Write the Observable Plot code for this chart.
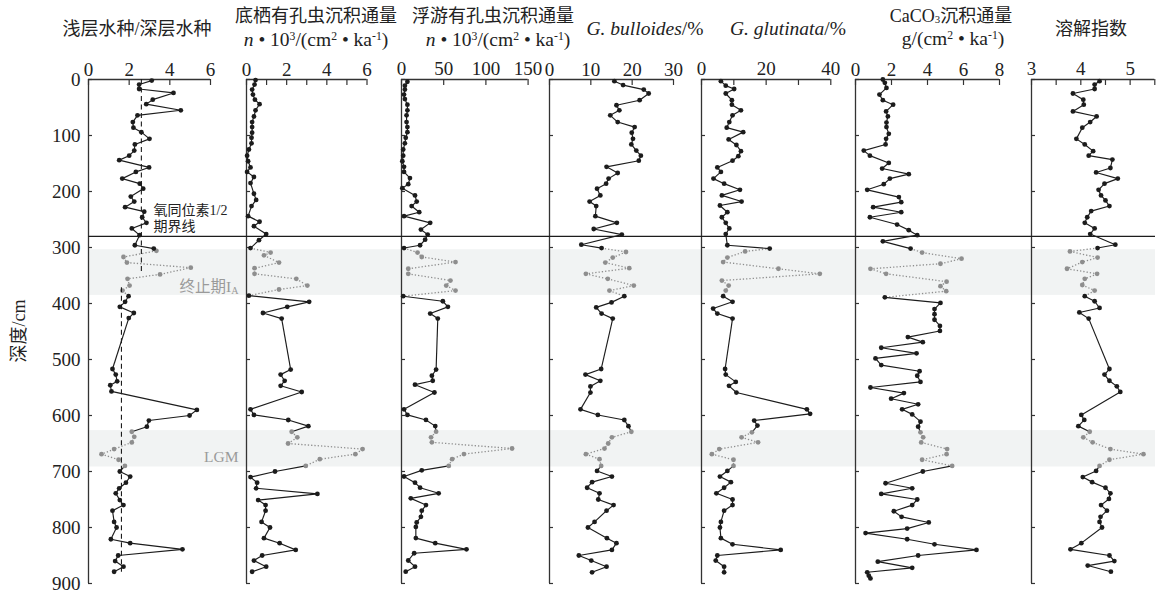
<!DOCTYPE html>
<html>
<head>
<meta charset="utf-8">
<script src="https://cdn.jsdelivr.net/npm/d3@7"></script>
<script src="https://cdn.jsdelivr.net/npm/@observablehq/plot@0.6"></script>
<style>
  body { margin: 0; background: #fff; }
  #chart { position: relative; width: 1166px; height: 597px; overflow: hidden;
           font-family: "Liberation Serif", "Times New Roman", "DejaVu Serif", serif, "Noto Sans CJK SC"; color: #222; }
  .layer { position: absolute; top: 0; }
  .title { position: absolute; transform: translate(-50%, -50%); white-space: nowrap;
           font-size: 18px; line-height: 1; }
  .title.latin { font-size: 19.5px; }
  .title sup { font-size: 60%; vertical-align: 0.55em; line-height: 0; }
  .title sub { font-size: 60%; vertical-align: -0.05em; line-height: 0; }
  .ylab { position: absolute; left: 17px; top: 331px; transform: translate(-50%, -50%) rotate(-90deg);
          font-size: 18px; white-space: nowrap; }
</style>
</head>
<body>
<div id="chart"></div>
<script>
// ---------------- data ----------------
const depthTicks = [0, 100, 200, 300, 400, 500, 600, 700, 800, 900];

const bands = [
  {name: "终止期I", sub: "A", top: 304, bottom: 385.5},
  {name: "LGM", sub: "", top: 627, bottom: 692}
];
const boundaryDepth = 280;

// Panel 1: shallow / deep water species ratio
const ratioDepth = [2,9,17,24,36,44,55,64,76,86,94,106,116,127,136,144,157,165,177,186,195,209,218,228,236,246,256,266,278,296,302,
  306,317,327,336,348,356,368,377,
  387,397,406,417,426,
  517,527,539,546,557,
  590,600,609,620,
  629,638,648,660,669,679,690,
  700,709,720,730,739,751,760,770,790,800,821,828,839,850,860,870,879];
const ratioValues = [3.11,2.49,2.49,4.18,3.16,2.84,4.54,2.41,2.18,2.21,2.6,3.0,2.28,2.25,2.0,1.51,2.98,2.33,1.66,2.52,2.69,2.08,2.25,1.8,2.74,2.64,2.85,2.13,2.51,2.28,3.21,
  3.34,1.72,1.89,5.03,3.52,1.92,2.02,1.67,
  1.97,1.8,1.54,2.23,1.98,
  1.18,1.34,1.41,1.07,1.13,
  5.33,4.97,2.97,2.87,
  2.13,2.25,2.13,1.26,0.64,1.48,1.79,
  1.54,2.05,1.84,1.51,1.34,1.54,1.72,1.18,1.26,1.38,1.1,2.05,4.62,1.46,1.31,1.72,1.26];
const ratioMeans = [{x: 2.6, from: 0, to: 345}, {x: 1.62, from: 372, to: 880}];

// Panel 2: benthic foraminifera flux
const benthicDepth = [1,9,18,27,36,44,55,66,76,85,95,104,114,125,136,146,157,165,174,185,204,215,226,244,254,262,276,287,301,
  309,314,327,337,347,356,368,375,
  386,397,406,417,427,
  518,527,538,547,558,
  589,599,608,619,
  629,639,650,660,669,678,690,
  700,710,720,730,740,751,760,770,790,800,819,828,840,850,859,870,879];
const benthicValues = [0.45,0.4,0.28,0.32,0.42,0.65,0.45,0.37,0.28,0.28,0.28,0.25,0.25,0.12,0.03,0.08,0.2,0.03,0.37,0.2,0.37,0.48,0.25,0.08,0.65,0.37,0.98,0.62,0.2,
  1.2,0.87,1.62,0.4,0.4,2.48,3.03,1.62,
  0.12,3.12,2.03,0.82,1.75,
  2.2,1.7,1.9,1.7,2.75,
  0.2,0.37,2.08,3.08,
  2.25,2.53,2.07,5.78,5.42,3.65,2.95,
  1.42,0.2,0.53,0.48,3.53,0.58,0.95,0.95,0.75,1.17,0.87,1.65,2.45,0.78,0.37,0.98,0.28];

// Panel 3: planktonic foraminifera flux
const planktonDepth = [4,11,18,27,35,45,55,64,76,85,94,104,114,125,136,146,156,165,176,187,194,207,218,226,237,244,256,268,277,286,296,301,
  309,317,326,338,347,359,368,377,
  387,396,406,418,427,
  518,529,538,545,559,
  589,599,608,619,
  629,639,648,659,669,678,690,
  698,709,720,729,739,748,760,770,781,791,799,819,828,839,846,859,870,879];
const planktonValues = [7,4,4,3,4,7,7,6,6,7,7,5,4,2,2,1,3,3,10,8,1,16,18,12,21,3,34,23,31,28,22,3,
  19,24,64,8,8,58,53,64,
  2,49,55,34,43,
  41,36,37,16,39,
  3,7,29,40,
  41,35,36,131,74,60,56,
  24,3,16,22,44,11,29,24,23,18,17,17,40,77,15,8,16,5];

// Panel 4: G. bulloides %
const bulloidesDepth = [3,10,18,25,37,46,55,64,76,85,95,106,116,127,136,145,156,167,177,186,195,207,218,226,244,256,267,277,295,301,
  308,318,327,337,347,356,368,377,
  387,398,407,418,427,
  517,527,538,548,559,
  589,599,608,619,
  629,639,650,659,669,678,690,
  699,709,719,729,739,750,760,770,790,800,819,828,840,850,859,870,880];
const bulloidesValues = [15.7,17.8,22.8,24,21.8,16.2,16.9,14.7,16.5,20.6,19.9,20.2,19.8,21,22.1,21.6,13.8,16.5,14.3,13.7,11.5,12.3,9.7,11.3,11.1,16.3,10.7,17.5,7.7,12.6,
  18.5,15.3,13.5,19.3,8.8,14.1,20.4,14.5,
  18.1,15,11.3,12.6,15.3,
  12.5,8.7,12.3,9.9,9.9,
  7.5,11.7,18.1,19.1,
  19.8,15.1,14.2,13.3,8.8,12.1,12.5,
  11.5,15.1,10.3,9.1,12.1,11.8,15.5,13.8,10.9,9.3,13.9,16.2,15.1,7.1,10.1,13.8,10.3];

// Panel 5: G. glutinata %
const glutinataDepth = [3,11,17,25,37,45,55,64,76,86,94,107,117,128,137,145,157,165,177,186,197,207,218,225,237,246,256,266,276,296,302,
  307,318,326,338,347,359,368,377,
  387,397,409,418,427,
  517,527,540,547,559,
  589,597,609,618,
  630,639,648,660,669,679,690,
  699,709,719,729,739,750,760,770,790,800,819,830,840,850,859,870,880];
const glutinataValues = [6,7.5,10.1,7.5,9.4,9.4,12.2,9.6,8.6,7.8,12.9,8.4,10.8,12.2,11.4,9.6,4.9,6,3.7,7,11.9,6.3,12.4,5.7,8,6.3,7.5,8.6,7.5,8,21.1,
  13.5,8,6.7,23.8,36.6,6.3,8.4,7.5,
  6.7,9.6,3.6,4.9,9.6,
  7.3,7.5,10.6,8.5,10.8,
  32.6,33.6,16.3,17.3,
  15.6,12.4,17.5,5.5,3.2,9.9,9.9,
  8,5.7,9.1,7,4.6,9.6,9.6,7,6,5.7,6,9.6,24.5,4.9,4.4,7,7];

// Panel 6: CaCO3 flux
const caco3Depth = [0,6,15,27,37,45,57,66,77,85,97,106,116,127,136,149,159,169,177,187,197,210,219,228,237,246,259,269,278,289,302,
  309,320,329,338,347,361,369,378,
  389,399,410,419,429,440,449,460,469,479,489,498,510,521,529,540,550,560,570,580,589,598,611,620,
  630,639,648,660,669,679,690,
  700,721,730,740,750,760,771,781,791,802,810,821,830,840,850,861,872,880,886,891];
const caco3Values = [1.52,1.63,1.72,1.33,1.52,2.09,1.7,1.8,1.72,1.72,1.85,1.7,1.67,0.46,0.8,1.85,1.48,2.96,1.91,1.57,0.65,2.41,2.54,0.98,2.54,0.8,2.31,2.96,3.43,1.52,3.06,
  3.7,5.89,4.72,0.83,1.7,5.06,4.72,5.04,
  1.63,4.72,4.39,4.39,4.39,4.69,4.69,2.91,3.74,1.43,3.39,1.11,1.43,3.56,3.43,3.61,0.83,2.69,1.98,3.48,2.59,3.15,3.61,3.48,
  3.61,3.76,3.65,5.09,5.06,3.7,5.37,
  3.74,1.67,3.15,1.43,3.43,3.15,2.13,2.56,4.07,2.87,0.56,2.87,4.39,6.72,3.48,1.24,3.15,0.65,0.74,0.83];

// Panel 7: dissolution index
const dissolutionDepth = [3,9,17,25,36,45,57,66,76,86,106,116,128,136,143,158,166,177,186,197,207,216,226,235,246,256,266,276,295,301,
  307,318,326,338,347,356,367,377,
  387,396,408,416,427,
  517,527,538,548,558,
  599,608,619,
  629,639,648,660,669,679,690,
  699,710,719,729,739,749,760,770,781,790,800,828,839,850,860,868,879];
const dissolutionValues = [4.38,4.28,4.28,3.84,4.05,4.06,3.84,4.32,4.19,4.03,3.91,4.08,4.25,4.16,4.64,4.6,4.31,4.75,4.48,4.36,4.41,4.5,4.58,4.21,4.13,4.08,4.28,4.19,4.7,4.34,
  3.78,4.34,4.03,3.72,4.33,4.08,4.03,4.28,
  4.08,4.28,4.38,3.97,4.16,
  4.58,4.48,4.58,4.73,4.8,
  4.01,4.07,3.95,
  4.18,4.05,4.24,4.6,5.27,4.58,4.38,
  4.31,4.04,4.23,4.5,4.6,4.57,4.41,4.53,4.4,4.38,4.43,4.01,3.79,4.58,4.68,4.14,4.61];

// axis ticks (top) and their labels
const ratioTicks = [0, 2, 4, 6],              ratioLabels = [0, 2, 4, 6];
const benthicTicks = [0, 1, 2, 3, 4, 5, 6],   benthicLabels = [0, 2, 4, 6];
const planktonTicks = [0, 50, 100, 150],      planktonLabels = [0, 50, 100, 150];
const bulloidesTicks = [0, 10, 20, 30],       bulloidesLabels = [0, 10, 20, 30];
const glutinataTicks = [0, 10, 20, 30, 40],   glutinataLabels = [0, 20, 40];
const caco3Ticks = [0, 2, 4, 6, 8],           caco3Labels = [0, 2, 4, 6, 8];
const dissolutionTicks = [3, 3.5, 4, 4.5, 5, 5.5], dissolutionLabels = [3, 4, 5];

// text
const titles = [
  {html: "浅层水种/深层水种", x: 137, y: 29, latin: false},
  {html: "底栖有孔虫沉积通量", x: 316, y: 16, latin: false},
  {html: "<i>n</i> • 10<sup>3</sup>/(cm<sup>2</sup> • ka<sup>-1</sup>)", x: 316, y: 40, latin: true},
  {html: "浮游有孔虫沉积通量", x: 493, y: 16, latin: false},
  {html: "<i>n</i> • 10<sup>3</sup>/(cm<sup>2</sup> • ka<sup>-1</sup>)", x: 498, y: 40, latin: true},
  {html: "<i>G. bulloides</i>/%", x: 645, y: 29, latin: true},
  {html: "<i>G. glutinata</i>/%", x: 788, y: 29, latin: true},
  {html: "CaCO<sub>3</sub>沉积通量", x: 951, y: 16, latin: false},
  {html: "g/(cm<sup>2</sup> • ka<sup>-1</sup>)", x: 953, y: 39, latin: true},
  {html: "溶解指数", x: 1091, y: 29, latin: false}
];
const yTitle = "深度/cm";
const boundaryNotes = [
  {text: "氧同位素1/2", x: 3.2, depth: 234},
  {text: "期界线", x: 3.2, depth: 263}
];
const bandNotes = [
  {text: "终止期I", sub: "A", x: 7.02, depth: 370},
  {text: "LGM", sub: "", x: 7.38, depth: 674}
];

// ---------------- layout ----------------
const W = 1166, H = 597, MT = 79, MB = 14;
const FH = H - MT - MB;
const INK = "#1c1c1c", AXIS = "#333", GRAY = "#8e8e8e", BAND = "#f1f3f3";
const SERIF = "'Liberation Serif', 'Times New Roman', 'DejaVu Serif', serif, 'Noto Sans CJK SC'";
const CJK = "'Liberation Serif', 'Noto Sans CJK SC', serif";

const panels = [
  {left: 88,    right: 210,   domain: [0, 6],   ticks: ratioTicks,       labels: ratioLabels,       depth: ratioDepth,       values: ratioValues},
  {left: 246,   right: 366.5, domain: [0, 6],   ticks: benthicTicks,     labels: benthicLabels,     depth: benthicDepth,     values: benthicValues},
  {left: 400.7, right: 527.3, domain: [0, 150], ticks: planktonTicks,    labels: planktonLabels,    depth: planktonDepth,    values: planktonValues},
  {left: 549,   right: 673,   domain: [0, 30],  ticks: bulloidesTicks,   labels: bulloidesLabels,   depth: bulloidesDepth,   values: bulloidesValues},
  {left: 700.7, right: 830,   domain: [0, 40],  ticks: glutinataTicks,   labels: glutinataLabels,   depth: glutinataDepth,   values: glutinataValues},
  {left: 855,   right: 999,   domain: [0, 8],   ticks: caco3Ticks,       labels: caco3Labels,       depth: caco3Depth,       values: caco3Values},
  {left: 1030.7,right: 1154,  domain: [3, 5.5], ticks: dissolutionTicks, labels: dissolutionLabels, depth: dissolutionDepth, values: dissolutionValues}
];

const inBand = d => bands.some(b => d >= b.top && d <= b.bottom);
const chart = document.getElementById("chart");

function place(el, left) {
  el.classList.add("layer");
  el.style.left = left + "px";
  chart.appendChild(el);
}

// background: bands
const bg = Plot.plot({
  width: W, height: H, marginTop: MT, marginBottom: MB, marginLeft: 88, marginRight: W - 1155,
  x: {domain: [0, 1], axis: null},
  y: {domain: [0, 900], reverse: true, axis: null},
  style: {background: "transparent"},
  marks: [
    Plot.rect(bands, {x1: 0, x2: 1, y1: "top", y2: "bottom", fill: BAND})
  ]
});
place(bg, 0);

panels.forEach((p, i) => {
  const ml = i === 0 ? p.left : 30;
  const mr = i === 0 ? 42 : 14;
  const fw = p.right - p.left;
  const pts = p.depth.map((d, k) => ({d, v: p.values[k], g: inBand(d)}));
  const segs = d3.pairs(pts).map(([a, b]) => ({a, b, g: inBand((a.d + b.d) / 2)}));
  const marks = [
    Plot.ruleY([0], {stroke: AXIS, strokeWidth: 1.3}),
    Plot.ruleX([p.domain[0]], {stroke: AXIS, strokeWidth: 1.3}),
    Plot.tickX(p.ticks, {x: d => d, insetBottom: FH - 6, stroke: AXIS, strokeWidth: 1.2}),
    Plot.tickY(depthTicks, {y: d => d, insetRight: fw - 4, stroke: AXIS, strokeWidth: 1.2}),
    Plot.link(segs.filter(s => s.g), {x1: s => s.a.v, y1: s => s.a.d, x2: s => s.b.v, y2: s => s.b.d,
      stroke: GRAY, strokeWidth: 1.3, strokeDasharray: "1.3,2"}),
    Plot.link(segs.filter(s => !s.g), {x1: s => s.a.v, y1: s => s.a.d, x2: s => s.b.v, y2: s => s.b.d,
      stroke: INK, strokeWidth: 1.15}),
    Plot.dot(pts.filter(q => q.g), {x: "v", y: "d", r: 2.4, fill: GRAY, stroke: "none"}),
    Plot.dot(pts.filter(q => !q.g), {x: "v", y: "d", r: 2.4, fill: INK, stroke: "none"})
  ];
  if (i === 0) {
    marks.push(
      Plot.ruleX(ratioMeans, {x: "x", y1: "from", y2: "to", stroke: INK, strokeWidth: 1.1, strokeDasharray: "5,3.5"}),
      Plot.text(boundaryNotes, {x: "x", y: "depth", text: "text", textAnchor: "start", fontSize: 14,
        fill: "#222", fontFamily: CJK}),
      Plot.text(bandNotes, {x: "x", y: "depth", text: "text", textAnchor: "end", fontSize: 15.5, fill: "#9a9a9a",
        fontFamily: CJK}),
      Plot.text(bandNotes, {x: "x", y: "depth", text: "sub", textAnchor: "start", fontSize: 10, dy: 4, fill: "#9a9a9a",
        fontFamily: SERIF})
    );
  }
  const svg = Plot.plot({
    width: ml + fw + mr, height: H, marginTop: MT, marginBottom: MB, marginLeft: ml, marginRight: mr,
    x: {domain: p.domain, axis: "top", ticks: p.labels, tickSize: 0, tickPadding: 4, tickFormat: d => String(d), label: null},
    y: {domain: [0, 900], reverse: true, axis: i === 0 ? "left" : null, ticks: depthTicks, tickSize: 0,
        tickPadding: 8, tickFormat: d => String(d), label: null},
    style: {background: "transparent", overflow: "visible", fontFamily: SERIF, fontSize: "19px", color: "#222"},
    marks
  });
  place(svg, p.left - ml);
});

// boundary line on top
const fg = Plot.plot({
  width: W, height: H, marginTop: MT, marginBottom: MB, marginLeft: 88, marginRight: W - 1155,
  x: {domain: [0, 1], axis: null},
  y: {domain: [0, 900], reverse: true, axis: null},
  style: {background: "transparent", pointerEvents: "none"},
  marks: [Plot.ruleY([boundaryDepth], {stroke: INK, strokeWidth: 1.2})]
});
place(fg, 0);

titles.forEach(t => {
  const d = document.createElement("div");
  d.className = t.latin ? "title latin" : "title";
  d.style.left = t.x + "px";
  d.style.top = t.y + "px";
  d.innerHTML = t.html;
  chart.appendChild(d);
});
const yl = document.createElement("div");
yl.className = "ylab";
yl.textContent = yTitle;
chart.appendChild(yl);
</script>
</body>
</html>
